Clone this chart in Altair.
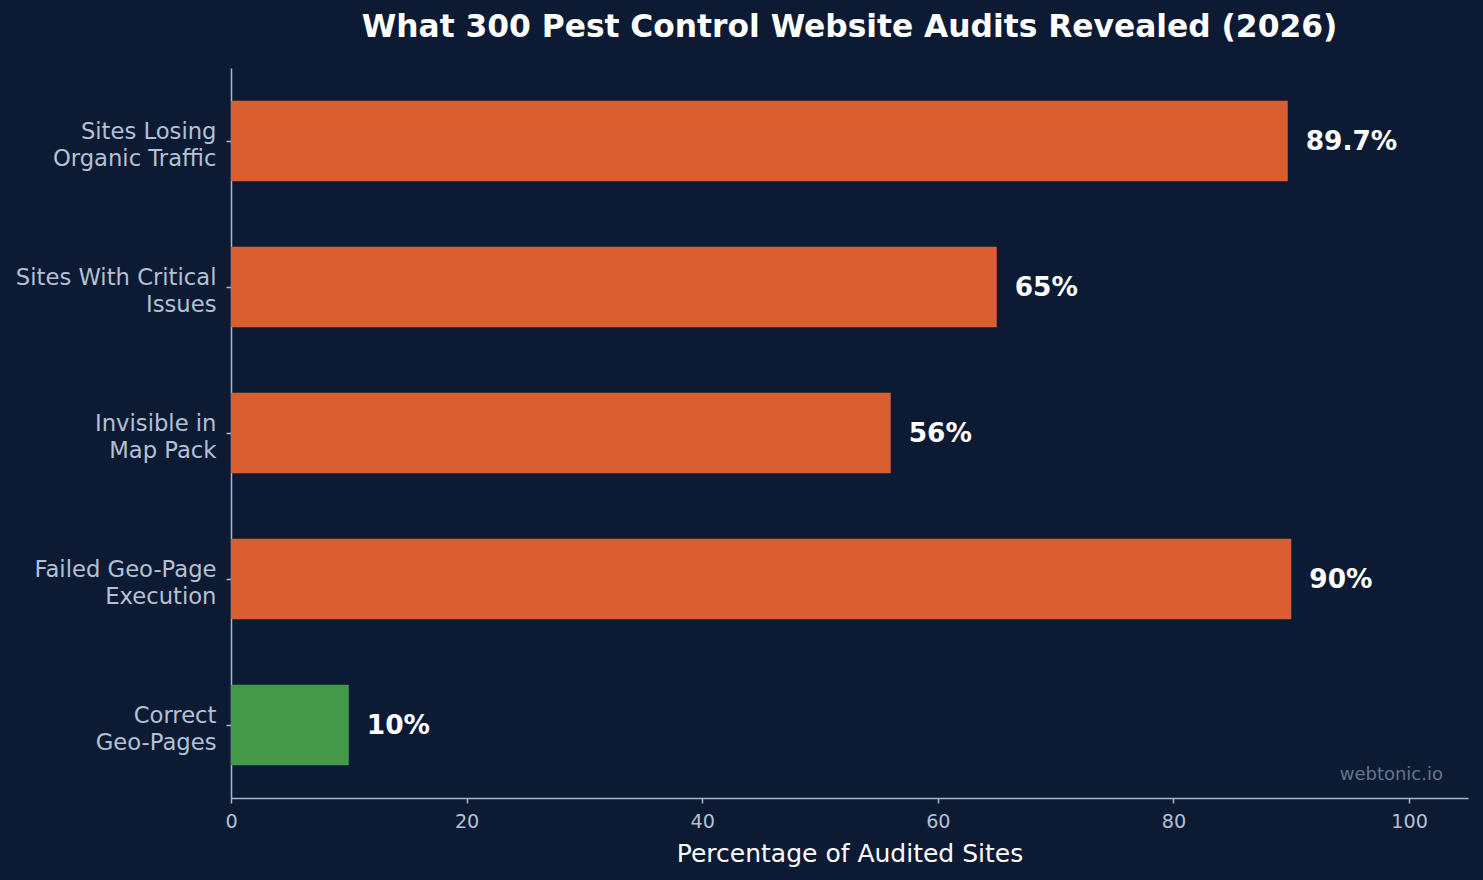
import altair as alt
import pandas as pd

categories = [
    "Sites Losing\nOrganic Traffic",
    "Sites With Critical\nIssues",
    "Invisible in\nMap Pack",
    "Failed Geo-Page\nExecution",
    "Correct\nGeo-Pages",
]
values = [89.7, 65, 56, 90, 10]
value_labels = ["89.7%", "65%", "56%", "90%", "10%"]
bar_colors = ["#d95f30", "#d95f30", "#d95f30", "#d95f30", "#43984a"]
x_ticks = [0, 20, 40, 60, 80, 100]

BG = "#0c1b33"
AXIS = "#a9b5c8"
LABEL = "#b4c0d4"
FONT = "DejaVu Sans"

df = pd.DataFrame({
    "category": categories,
    "value": values,
    "label": value_labels,
    "color": bar_colors,
})

y_enc = alt.Y(
    "category:N",
    sort=categories,
    scale=alt.Scale(paddingInner=0.45, paddingOuter=0.225),
    axis=alt.Axis(
        title=None,
        labelExpr="split(datum.label, '\\n')",
        labelFontSize=22.7,
        labelLineHeight=26.5,
        labelOffset=-9,
        labelColor=LABEL,
        labelFont=FONT,
        labelPadding=10,
        labelLimit=400,
        tickSize=5,
        tickColor=AXIS,
        domainColor=AXIS,
        domainWidth=1.5,
        tickWidth=1.5,
        grid=False,
    ),
)
x_enc = alt.X(
    "value:Q",
    scale=alt.Scale(domain=[0, 105], nice=False, zero=True),
    axis=alt.Axis(
        values=x_ticks,
        title="Percentage of Audited Sites",
        titleFontSize=25,
        titleFontWeight="normal",
        titleColor="#ffffff",
        titleFont=FONT,
        titlePadding=10,
        labelFontSize=19.2,
        labelColor=LABEL,
        labelFont=FONT,
        labelPadding=9,
        labelFlush=False,
        tickSize=5,
        tickColor=AXIS,
        domainColor=AXIS,
        domainWidth=1.5,
        tickWidth=1.5,
        grid=False,
    ),
)

base = alt.Chart(df)
bars = base.mark_bar().encode(
    y=y_enc,
    x=x_enc,
    color=alt.Color("color:N", scale=None),
)
texts = base.mark_text(
    align="left", baseline="middle", dx=18, dy=1, fontSize=26.4, fontWeight="bold",
    color="#ffffff", font=FONT,
).encode(
    y=alt.Y("category:N", sort=categories),
    x=alt.X("value:Q"),
    text="label:N",
)
watermark = alt.Chart(pd.DataFrame({"t": ["webtonic.io"]})).mark_text(
    align="right", baseline="middle", fontSize=18, color="#66748c", font=FONT,
).encode(
    x=alt.value(1212),
    y=alt.value(707),
    text="t:N",
)

chart = alt.layer(bars, texts, watermark).properties(
    width=1237,
    height=730,
    background=BG,
    padding={"left": 231, "top": 68, "right": 15, "bottom": 82},
    autosize="none",
    title=alt.TitleParams(
        "What 300 Pest Control Website Audits Revealed (2026)",
        fontSize=31.3,
        fontWeight="bold",
        color="#ffffff",
        font=FONT,
        anchor="middle",
        frame="group",
        baseline="alphabetic",
        offset=0,
    ),
).configure_view(stroke=None)

chart.save("out.html", embed_options={"renderer": "svg", "actions": False})
